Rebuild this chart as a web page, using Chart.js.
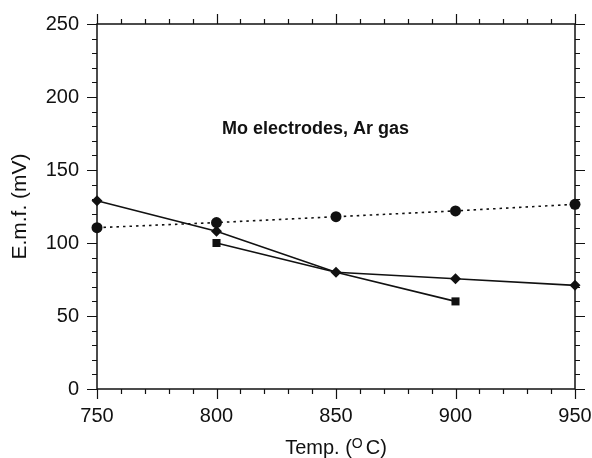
<!DOCTYPE html>
<html>
<head>
<meta charset="utf-8">
<script src="https://cdn.jsdelivr.net/npm/chart.js@4"></script>
<style>
html,body{margin:0;padding:0;background:#fff;}
#wrap{width:592px;height:458px;position:relative;}
</style>
</head>
<body>
<div id="wrap"><canvas id="c" width="592" height="458"></canvas></div>
<script>
const temps = [750, 800, 850, 900, 950];
const circleSeries = [110.5, 114, 118, 122, 126.5];
const diamondSeries = [129, 108, 80, 75.5, 71];
const squareTemps = [800, 850, 900];
const squareSeries = [100, 80, 60];
const yTickLabels = [0, 50, 100, 150, 200, 250];
const xTickLabels = [750, 800, 850, 900, 950];
const annotationText = 'Mo electrodes, Ar gas';
const xTitleParts = ['Temp. (', 'O', 'C)'];
const yTitle = 'E.m.f. (mV)';

const FONT = '"Liberation Sans", Arial, Helvetica, sans-serif';

const framePlugin = {
  id: 'frame',
  afterDraw(chart) {
    const ctx = chart.ctx;
    const a = chart.chartArea;
    const xs = chart.scales.x, ys = chart.scales.y;
    ctx.save();
    ctx.strokeStyle = '#111';
    ctx.lineWidth = 1.5;
    ctx.strokeRect(a.left, a.top, a.right - a.left, a.bottom - a.top);
    ctx.lineWidth = 1.2;
    ctx.beginPath();
    for (let v = xs.min; v <= xs.max + 0.001; v += 10) {
      const px = Math.round(xs.getPixelForValue(v)) + 0.5;
      const len = (v % 50 === 0) ? 10 : 5;
      ctx.moveTo(px, a.bottom); ctx.lineTo(px, a.bottom + len);
      ctx.moveTo(px, a.top); ctx.lineTo(px, a.top - len);
    }
    for (let v = ys.min; v <= ys.max + 0.001; v += 10) {
      const py = Math.round(ys.getPixelForValue(v)) + 0.5;
      const len = (v % 50 === 0) ? 10 : 5;
      ctx.moveTo(a.left, py); ctx.lineTo(a.left - len, py);
      ctx.moveTo(a.right, py); ctx.lineTo(a.right + len, py);
    }
    ctx.stroke();

    // annotation
    ctx.fillStyle = '#111';
    ctx.font = 'bold 18px ' + FONT;
    ctx.textAlign = 'left';
    ctx.textBaseline = 'middle';
    ctx.fillText(annotationText, xs.getPixelForValue(802.3), ys.getPixelForValue(178));

    // x title with superscript
    ctx.font = '20px ' + FONT;
    const w0 = ctx.measureText(xTitleParts[0]).width;
    ctx.font = '14px ' + FONT;
    const w1 = ctx.measureText(xTitleParts[1]).width;
    ctx.font = '20px ' + FONT;
    const w2 = ctx.measureText(xTitleParts[2]).width;
    const total = w0 + w1 + w2 + 3;
    let x0 = (a.left + a.right) / 2 - total / 2;
    const yb = 454;
    ctx.textBaseline = 'alphabetic';
    ctx.fillText(xTitleParts[0], x0, yb);
    ctx.font = '14px ' + FONT;
    ctx.fillText(xTitleParts[1], x0 + w0, yb - 6);
    ctx.font = '20px ' + FONT;
    ctx.fillText(xTitleParts[2], x0 + w0 + w1 + 3, yb);
    ctx.restore();
  }
};

new Chart(document.getElementById('c'), {
  type: 'scatter',
  data: {
    datasets: [
      {
        label: 'circles',
        data: temps.map((t, i) => ({x: t, y: circleSeries[i]})),
        showLine: true,
        borderColor: '#111',
        backgroundColor: '#111',
        borderWidth: 1.6,
        borderDash: [2.5, 4],
        pointStyle: 'circle',
        pointRadius: 5.5,
        pointBorderWidth: 0,
        clip: false
      },
      {
        label: 'diamonds',
        data: temps.map((t, i) => ({x: t, y: diamondSeries[i]})),
        showLine: true,
        borderColor: '#111',
        backgroundColor: '#111',
        borderWidth: 1.6,
        pointStyle: 'rectRot',
        pointRadius: 5.5,
        pointBorderWidth: 0,
        clip: false
      },
      {
        label: 'squares',
        data: squareTemps.map((t, i) => ({x: t, y: squareSeries[i]})),
        showLine: true,
        borderColor: '#111',
        backgroundColor: '#111',
        borderWidth: 1.6,
        pointStyle: 'rect',
        pointRadius: [5.7, 0, 5.7],
        pointBorderWidth: 0,
        clip: false
      }
    ]
  },
  options: {
    responsive: false,
    animation: false,
    devicePixelRatio: 1,
    layout: {padding: {top: 24, right: 17, left: 0, bottom: 0}},
    plugins: {legend: {display: false}, tooltip: {enabled: false}},
    scales: {
      x: {
        type: 'linear', min: 750, max: 950,
        afterBuildTicks(s) { s.ticks = xTickLabels.map(v => ({value: v})); },
        afterFit(s) { s.height = 69; s.paddingLeft = 0; s.paddingRight = 0; },
        grid: {display: false, drawTicks: false},
        border: {display: false},
        ticks: {color: '#111', padding: 15, font: {size: 20, family: FONT}, maxRotation: 0, autoSkip: false}
      },
      y: {
        type: 'linear', min: 0, max: 250,
        afterBuildTicks(s) { s.ticks = yTickLabels.map(v => ({value: v})); },
        afterFit(s) { s.width = 97; s.paddingTop = 0; s.paddingBottom = 0; },
        grid: {display: false, drawTicks: false},
        border: {display: false},
        ticks: {color: '#111', padding: 18, font: {size: 20, family: FONT}},
        title: {display: true, text: yTitle, color: '#111', font: {size: 21, family: FONT}, padding: {top: 8, bottom: 0}}
      }
    }
  },
  plugins: [framePlugin]
});
</script>
</body>
</html>
